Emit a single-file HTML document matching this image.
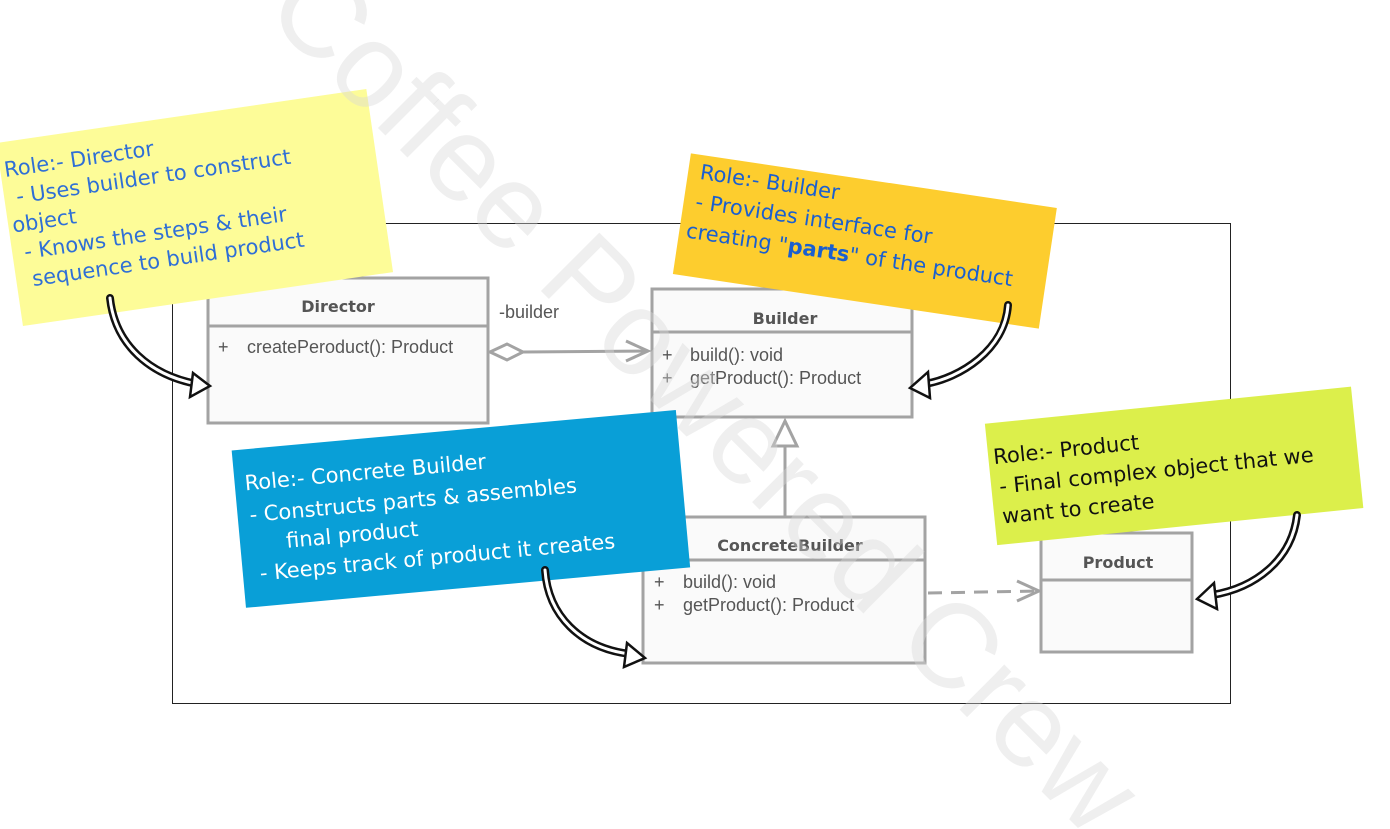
<!DOCTYPE html>
<html><head><meta charset="utf-8"><style>
html,body{margin:0;padding:0;background:#fff;}
svg{display:block;}
.h{font-family:"Liberation Sans",sans-serif;}
.cls{font-family:"Liberation Sans",sans-serif;font-size:18px;fill:#555;}
.ttl{font-family:"DejaVu Sans","Liberation Sans",sans-serif;font-size:16px;font-weight:bold;fill:#555;}
.note{font-family:"DejaVu Sans","Liberation Sans",sans-serif;font-size:21px;font-weight:normal;}
</style></head><body>
<svg width="1390" height="829" viewBox="0 0 1390 829" xmlns="http://www.w3.org/2000/svg">
<rect x="0" y="0" width="1390" height="829" fill="#fff"/>
<rect x="172.5" y="223.5" width="1058" height="480" fill="none" stroke="#222" stroke-width="1"/>

<!-- Director -->
<rect x="208" y="278" width="280" height="145" fill="#fafafa" stroke="#a3a3a3" stroke-width="3"/>
<line x1="208" y1="326" x2="488" y2="326" stroke="#a3a3a3" stroke-width="3"/>
<text class="ttl" x="338" y="312" text-anchor="middle">Director</text>
<text class="cls" x="218" y="353" font-size="16">+</text>
<text class="cls" x="247" y="353" font-size="16.5">createPeroduct(): Product</text>
<text class="cls" x="499" y="318" font-size="17">-builder</text>

<!-- Builder -->
<rect x="652" y="289" width="260" height="128" fill="#fafafa" stroke="#a3a3a3" stroke-width="3"/>
<line x1="652" y1="332" x2="912" y2="332" stroke="#a3a3a3" stroke-width="3"/>
<text class="ttl" x="785" y="324" text-anchor="middle">Builder</text>
<text class="cls" x="662" y="361">+</text><text class="cls" x="690" y="361">build(): void</text>
<text class="cls" x="662" y="384">+</text><text class="cls" x="690" y="384">getProduct(): Product</text>

<!-- ConcreteBuilder -->
<rect x="643" y="517" width="282" height="146" fill="#fafafa" stroke="#a3a3a3" stroke-width="3"/>
<line x1="643" y1="560" x2="925" y2="560" stroke="#a3a3a3" stroke-width="3"/>
<text class="ttl" x="790" y="551" text-anchor="middle">ConcreteBuilder</text>
<text class="cls" x="654" y="588">+</text><text class="cls" x="683" y="588">build(): void</text>
<text class="cls" x="654" y="611">+</text><text class="cls" x="683" y="611">getProduct(): Product</text>

<!-- Product -->
<rect x="1041" y="533" width="151" height="119" fill="#fafafa" stroke="#a3a3a3" stroke-width="3"/>
<line x1="1041" y1="580" x2="1192" y2="580" stroke="#a3a3a3" stroke-width="3"/>
<text class="ttl" x="1118" y="568" text-anchor="middle">Product</text>

<polygon points="490,352 507,344 523,352 507,360" fill="#fff" stroke="#a3a3a3" stroke-width="3"/>
<line x1="523" y1="352" x2="648" y2="351" stroke="#a3a3a3" stroke-width="3"/>
<polyline points="626,341 648,351 626,361" fill="none" stroke="#a3a3a3" stroke-width="3"/>
<line x1="785" y1="517" x2="785" y2="446" stroke="#a3a3a3" stroke-width="3"/>
<polygon points="785,421 773,446 797,446" fill="#fff" stroke="#a3a3a3" stroke-width="3"/>
<line x1="928" y1="593" x2="1038" y2="591" stroke="#a3a3a3" stroke-width="3" stroke-dasharray="14,9"/>
<polyline points="1017,581 1039,591 1017,601" fill="none" stroke="#a3a3a3" stroke-width="3"/>

<!-- notes -->
<g transform="rotate(-8.3 195 210)">
<rect x="8" y="115" width="374" height="185" fill="#fdfc98"/>
<g class="note" fill="#2f6fd6">
<text x="12" y="150">Role:- Director</text>
<text x="20" y="178"> - Uses builder to construct</text>
<text x="12" y="206">object</text>
<text x="20" y="234">- Knows the steps &amp; their</text>
<text x="24" y="262">sequence to build product</text>
</g></g>

<g transform="rotate(8.5 865 240)">
<rect x="680" y="180" width="370" height="122" fill="#fdcd2e"/>
<g class="note" fill="#1a5fd0">
<text x="692" y="204">Role:- Builder</text>
<text x="692" y="234">- Provides interface for</text>
<text x="687" y="264">creating "<tspan font-weight="bold">parts</tspan>" of the product</text>
</g></g>

<g transform="rotate(-5.2 460 510)">
<rect x="238" y="430" width="446" height="158" fill="#099fd7"/>
<g class="note" fill="#fff">
<text x="248" y="471">Role:- Concrete Builder</text>
<text x="250" y="503">-   Constructs parts &amp; assembles</text>
<text x="284" y="532">final product</text>
<text x="255" y="562">-   Keeps track of product it creates</text>
</g></g>

<g transform="rotate(-5.8 1173 465)">
<rect x="990" y="405" width="368" height="122" fill="#dcef4b"/>
<g class="note" fill="#111">
<text x="995" y="446">Role:- Product</text>
<text x="998" y="476">- Final complex object that we</text>
<text x="998" y="506">want to create</text>
</g></g>

<g fill="none" stroke-linecap="round">
<path d="M110,298 C115,345 150,375 197,384" stroke="#111" stroke-width="8"/>
<path d="M110,298 C115,345 150,375 197,384" stroke="#fff" stroke-width="3"/>
<path d="M1008,305 C1005,350 960,378 925,384" stroke="#111" stroke-width="8"/>
<path d="M1008,305 C1005,350 960,378 925,384" stroke="#fff" stroke-width="3"/>
<path d="M545,570 C548,615 580,648 630,654" stroke="#111" stroke-width="8"/>
<path d="M545,570 C548,615 580,648 630,654" stroke="#fff" stroke-width="3"/>
<path d="M1297,515 C1292,560 1255,588 1212,595" stroke="#111" stroke-width="8"/>
<path d="M1297,515 C1292,560 1255,588 1212,595" stroke="#fff" stroke-width="3"/>
</g>
<polygon points="193,373 210,386 190,397" fill="#fff" stroke="#111" stroke-width="2.5"/>
<polygon points="928,372 910,388 930,398" fill="#fff" stroke="#111" stroke-width="2.5"/>
<polygon points="627,643 645,658 624,667" fill="#fff" stroke="#111" stroke-width="2.5"/>
<polygon points="1214,583 1197,599 1217,609" fill="#fff" stroke="#111" stroke-width="2.5"/>

<text x="262" y="12" transform="rotate(45 262 12)" class="h" font-size="120" fill="#d8d8d8" fill-opacity="0.4">Coffee Powered Crew</text>
</svg>
</body></html>
